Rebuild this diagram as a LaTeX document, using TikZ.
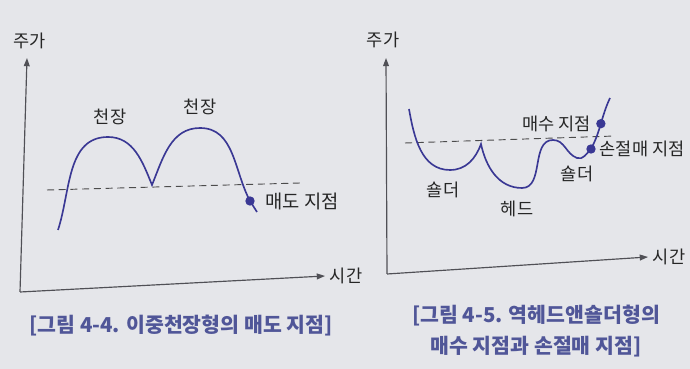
\documentclass[tikz,border=0pt]{standalone}
\usepackage{fontspec}
\setmainfont{Noto Sans CJK KR}
\usetikzlibrary{arrows.meta, positioning, backgrounds}
\definecolor{paper}{RGB}{229,230,234}
\definecolor{curveblue}{RGB}{58,56,148}
\definecolor{capblue}{RGB}{80,86,152}
\definecolor{axisgray}{RGB}{80,80,86}

\begin{document}
\begin{tikzpicture}[x=0.03cm, y=0.03cm,
    every node/.style={font=\fontsize{15}{17}\selectfont, text=black!85, inner sep=1pt},
    axlbl/.style={font=\fontsize{15}{17}\selectfont},
    axis/.style={-{Triangle[length=7pt,width=5pt]}, line width=1pt, draw=axisgray},
    lvl/.style={dash pattern=on 6pt off 4pt, line width=0.8pt, draw=black!70},
    price/.style={line width=1.4pt, draw=curveblue},
    dot/.style={circle, fill=curveblue, inner sep=0pt, minimum size=8pt},
    figcap/.style={font=\fontsize{17.5}{27}\selectfont\bfseries, text=capblue, align=center}
]
\fill[paper] (0,0) rectangle (690,369);
\useasboundingbox (0,0) rectangle (690,369);

\coordinate (lo) at (20,77);
\coordinate (ly) at (27,311);
\coordinate (lx) at (325,93);
\draw[axis] (lo) -- (ly);
\draw[axis] (lo) -- (lx);
\node[axlbl] (lyl) at (30,328) {주가};
\node[axlbl, anchor=west, xshift=3pt] (lxl) at (lx) {시간};

\coordinate (lls) at (47,179);
\coordinate (lle) at (300,186);
\draw[lvl] (lls) -- (lle);

\draw[price] (58,139) to[out=72,in=180] (108,232) to[out=0,in=112] (152,184)
    to[out=68,in=180] (200,241) to[out=0,in=118] (250,168) -- (257,157);
\node (top1) at (110,252) {천장};
\node (top2) at (200,262) {천장};
\node[dot] (sell) at (250,168) {};
\node[right=8pt of sell, font=\fontsize{16}{18}\selectfont] (selll) {매도 지점};
\node[figcap] (lcap) at (181,43) {[그림 4-4. 이중천장형의 매도 지점]};

\coordinate (ro) at (387,95);
\coordinate (ry) at (386,311);
\coordinate (rx) at (648,112);
\draw[axis] (ro) -- (ry);
\draw[axis] (ro) -- (rx);
\node[axlbl] (ryl) at (383,329) {주가};
\node[axlbl, anchor=west, xshift=3pt] (rxl) at (rx) {시간};

\coordinate (rls) at (405,226);
\coordinate (rle) at (615,233);
\draw[lvl] (rls) -- (rle);

\draw[price] (409,260) to[out=-80,in=180] (450,199) to[out=0,in=250] (481,225)
    to[out=-78,in=180] (522,181) to[out=0,in=180] (553,229)
    to[out=0,in=160] (577,211) to[out=-20,in=225] (591,220)
    to[out=62,in=245] coordinate[pos=0.5] (rbuy) (610,271);
\node[dot] (stop) at (591,220) {};
\node[dot] (buy) at (rbuy) {};
\node[left=3pt of buy] (buyl) {매수 지점};
\node[right=2pt of stop] (stopl) {손절매 지점};
\node (sh1) at (443,179) {숄더};
\node (head) at (517,160) {헤드};
\node (sh2) at (577,195) {숄더};
\node[figcap] (rcap) at (536,38) {[그림 4-5. 역헤드앤숄더형의\\매수 지점과 손절매 지점]};
\end{tikzpicture}
\end{document}
